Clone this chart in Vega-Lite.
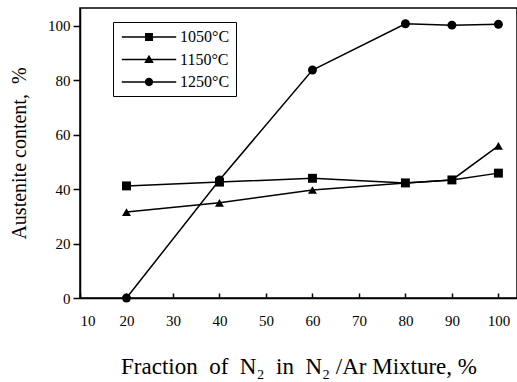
{
  "$schema": "https://vega.github.io/schema/vega-lite/v6.json",
  "autosize": "none",
  "width": 437,
  "height": 290,
  "padding": {"left": 80, "top": 8, "right": 0, "bottom": 84},
  "background": "white",
  "config": {
    "view": {"stroke": "black", "strokeWidth": 1.5},
    "font": "Liberation Serif",
    "axis": {
      "grid": false,
      "domainColor": "black",
      "domainWidth": 1.5,
      "tickColor": "black",
      "tickWidth": 1.5,
      "labelColor": "black",
      "titleColor": "black",
      "labelFont": "Liberation Serif",
      "titleFont": "Liberation Serif",
      "labelFontSize": 15,
      "titleFontSize": 20,
      "titleFontWeight": "normal"
    }
  },
  "data": {
    "values": [
      {"n2": 20, "austenite": 41.2, "temp": "1050°C"},
      {"n2": 40, "austenite": 42.6, "temp": "1050°C"},
      {"n2": 60, "austenite": 44.0, "temp": "1050°C"},
      {"n2": 80, "austenite": 42.3, "temp": "1050°C"},
      {"n2": 90, "austenite": 43.4, "temp": "1050°C"},
      {"n2": 100, "austenite": 45.9, "temp": "1050°C"},
      {"n2": 20, "austenite": 31.6, "temp": "1150°C"},
      {"n2": 40, "austenite": 35.0, "temp": "1150°C"},
      {"n2": 60, "austenite": 39.7, "temp": "1150°C"},
      {"n2": 80, "austenite": 42.3, "temp": "1150°C"},
      {"n2": 90, "austenite": 43.4, "temp": "1150°C"},
      {"n2": 100, "austenite": 55.9, "temp": "1150°C"},
      {"n2": 20, "austenite": 0, "temp": "1250°C"},
      {"n2": 40, "austenite": 43.4, "temp": "1250°C"},
      {"n2": 60, "austenite": 83.8, "temp": "1250°C"},
      {"n2": 80, "austenite": 100.8, "temp": "1250°C"},
      {"n2": 90, "austenite": 100.3, "temp": "1250°C"},
      {"n2": 100, "austenite": 100.6, "temp": "1250°C"}
    ]
  },
  "encoding": {
    "x": {
      "field": "n2",
      "type": "quantitative",
      "scale": {"domain": [10, 104], "nice": false, "zero": false},
      "axis": {
        "values": [10, 20, 30, 40, 50, 60, 70, 80, 90, 100],
        "tickSize": -5,
        "labelPadding": 20,
        "title": "Fraction\u00a0 of\u00a0 N₂\u00a0 in\u00a0 N₂ /Ar Mixture, %",
        "titleFontSize": 23,
        "titlePadding": 27
      }
    },
    "y": {
      "field": "austenite",
      "type": "quantitative",
      "scale": {"domain": [0, 106.6], "nice": false},
      "axis": {
        "values": [0, 20, 40, 60, 80, 100],
        "tickSize": 7,
        "labelPadding": 3,
        "title": "Austenite content,\u00a0 %",
        "titlePadding": 18
      }
    }
  },
  "layer": [
    {
      "mark": {"type": "line", "color": "black", "strokeWidth": 1.5},
      "encoding": {"detail": {"field": "temp", "type": "nominal"}}
    },
    {
      "mark": {"type": "point", "filled": true, "color": "black", "opacity": 1, "size": 80},
      "encoding": {
        "shape": {
          "field": "temp",
          "type": "nominal",
          "scale": {"domain": ["1050°C", "1150°C", "1250°C"], "range": ["square", "triangle-up", "circle"]},
          "legend": null
        }
      }
    },
    {
      "transform": [{"filter": "false"}],
      "mark": {"type": "point", "filled": true, "color": "black", "opacity": 1},
      "encoding": {
        "shape": {
          "field": "temp",
          "type": "nominal",
          "scale": {
            "domain": ["1050°C", "1150°C", "1250°C"],
            "range": [
              "M-3.4,-0.09H3.4V0.09H-3.4ZM-0.5,-0.5H0.5V0.5H-0.5Z",
              "M-3.4,-0.09H3.4V0.09H-3.4ZM0,-0.58L0.6,0.45H-0.6Z",
              "M-3.4,-0.09H3.4V0.09H-3.4ZM0.52,0A0.52,0.52,0,1,1,-0.52,0A0.52,0.52,0,1,1,0.52,0Z"
            ]
          },
          "legend": {
            "orient": "none",
            "legendX": 33,
            "legendY": 14,
            "title": null,
            "strokeColor": "black",
            "fillColor": "white",
            "padding": 6,
            "symbolOffset": 21,
            "symbolSize": 256,
            "labelOffset": 22,
            "labelFontSize": 16,
            "labelFont": "Liberation Serif",
            "labelColor": "black",
            "rowPadding": 5.5,
            "symbolFillColor": "black",
            "symbolOpacity": 1,
            "encode": {
              "legend": {"update": {"strokeWidth": {"value": 1.5}}},
              "symbols": {"update": {"fill": {"value": "black"}, "opacity": {"value": 1}}}
            }
          }
        }
      }
    }
  ],
  "resolve": {"scale": {"shape": "independent"}}
}
